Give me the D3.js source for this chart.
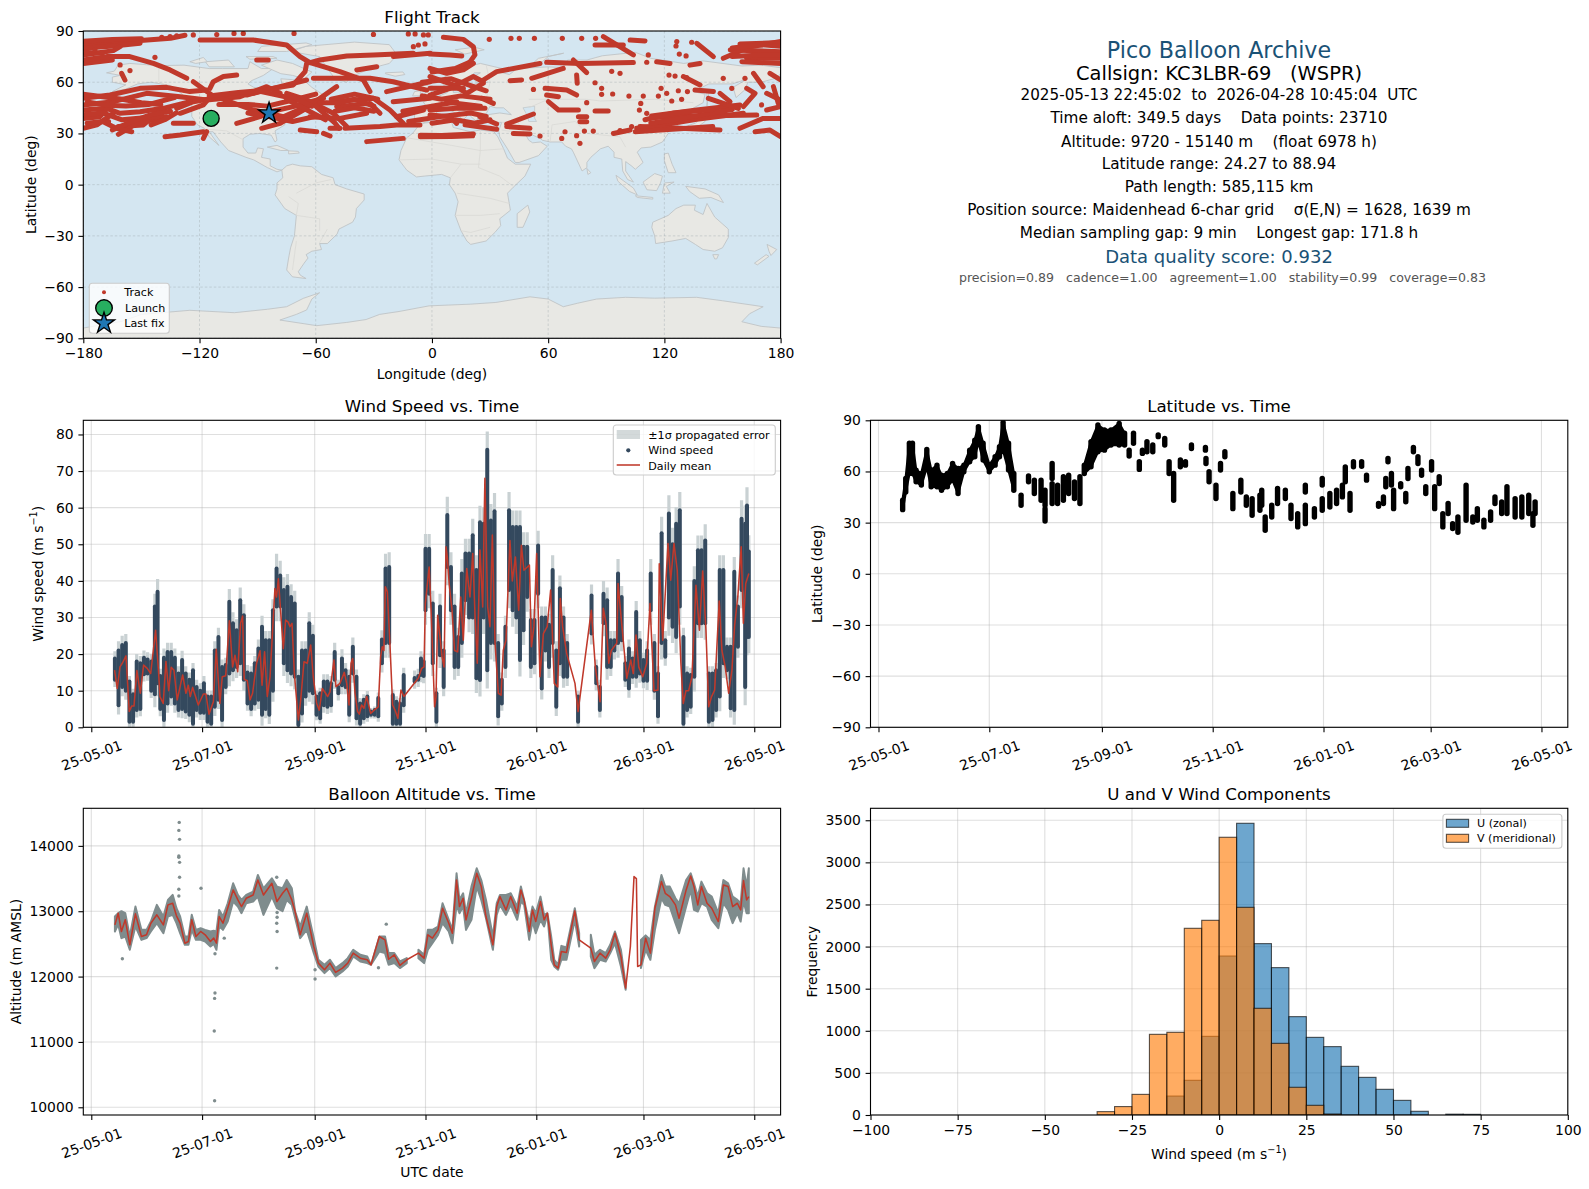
<!DOCTYPE html>
<html><head><meta charset="utf-8">
<script src="https://cdn.jsdelivr.net/npm/d3@7/dist/d3.min.js"></script>
<style>html,body{margin:0;padding:0;background:#fff}svg{display:block}text{font-family:"DejaVu Sans",sans-serif;fill:#000}</style>
</head><body><svg id="c" width="1589" height="1189" viewBox="0 0 1589 1189"></svg>
<script>
// ---------- DATA ----------
const date_ticks=["2025-05-01","2025-07-01","2025-09-01","2025-11-01","2026-01-01","2026-03-01","2026-05-01"];
const lon_ticks=[-180,-120,-60,0,60,120,180];
const lat_ticks=[-90,-60,-30,0,30,60,90];
const wind_ticks=[0,10,20,30,40,50,60,70,80];
const alt_ticks=[10000,11000,12000,13000,14000];
const hist_x_ticks=[-100,-75,-50,-25,0,25,50,75,100];
const hist_y_ticks=[0,500,1000,1500,2000,2500,3000,3500];

// wind: days since 2025-05-01; the spread of the scatter cloud at each of those days
const wind_days=[13,15,17,19,21,23,25,27,29,31,33,35,36.5,38,40,42,44,46,48,50,52,54,56,58,60,62,64,66,68,70,72,74,76,78,80,82,84,86,88,90,92,94,96,98,100,102,104,106,108,110,112,114,116,118,120,122,124,126,128,130,132,134,136,138,140,142,144,146,148,150,152,154,156,158,160,162,164,166,168,170,172,178,180,181.5,183,
184,186,188,190,192,194,196,198,200,202,204,206,208,210,212,214,216,218,220,222,224,226,228,230,232,234,236,238,240,242,244,246,248,250,252,254,256,258,260,262,268,275.4,278,280,282,284,286,288,290,292,294,296,298,300,302,304,306,308,310,312,314,316,318,320,322,324,326,328,330,332,334,336,338,340,342,344,346,348,350,352,354,356,358,360,361,362];
const wind_high=[18.8,21,22.5,23,12.5,9,18,17.5,19,18.5,18,33,37,14,19,20.6,20.6,19,14.7,18.4,14.7,13,15.6,11,10,12,8.4,8.4,21,24.7,16.5,17,34.3,28.4,26.5,34.7,30.6,15,14.7,17.5,21.5,27.5,23.8,23.8,32,43.4,41.5,37.5,38.4,35.6,33.8,13.8,21,21,28.4,25,8.4,9.3,12.5,12.5,12,20.6,11,18.8,15.6,13.8,22,13.8,6.5,7.5,8.4,4.3,4.7,8,24,43.4,43.8,8.8,7,6.5,14.3,13.5,14,18.8,18,
48.8,48.8,33.8,9.3,33,21,58,43.8,33,24.7,42,47.5,47.5,52.5,43,56,55.6,75.8,56.5,59,23,13,27.5,59.3,54.7,54.7,54.7,49.3,49.3,29.3,29.3,49.7,30,30,28,43,21,38,30,23,8.4,36,16.5,11,36.5,34.7,23.8,23.8,42,35.6,17.5,21.5,18.8,31.5,23.8,18.4,21,42,23,14.7,53,23.8,58.4,50,55.6,59.3,24.7,14.7,14.3,40,48.4,48.4,51,14.7,14.7,15.6,43,43,22,22,42.5,33,57,55.6,60.6,48];
const wind_low=[13,6,11,10,1.5,1.5,4.7,5,14.5,14.7,10,9,12,5,2,6.5,8.4,6.5,4.7,5,4.3,3.4,1,4.7,4,4,1.5,1,5.6,7.5,2,11,14.7,15.6,16.5,17.5,13,6.5,5,6.5,7.5,3.4,5,3.4,10,33,33,17.5,15.6,14.7,13.8,0.6,3.8,8.4,10,9.3,3.4,2.5,6,5.6,6,13,9.3,11.5,11,3.4,14.7,2.5,1,2.5,3,3.4,3.4,3,17.5,23,23,1,1,1,6,12.5,13,14.3,14,
32,36.5,17.5,1.5,19.7,11,43.8,32,16.5,16.5,23,34.7,30,30,13.4,12.9,30,15.6,23,23,3,6.5,16.5,37.5,32,30,18.4,26.5,35.6,16.5,17.5,36.5,10.6,21,16.5,23,5.6,17.5,13.8,13.8,1.5,25.6,12,4.7,28.4,16.5,16.5,21,23,23.8,13,10.6,13.8,13.8,14.7,12.7,12.7,32,10,3,23,19.3,30,27.5,24.7,33,1,4.7,5.6,13.8,28.4,28.4,28.4,1.5,2,4.7,8.4,17.5,15.6,5.2,4.7,22,37.5,11,24.7,24.7];
const wind_sigma=[2,2.5,2.5,2.5,1.5,1.5,2,2,2,2,2,3.5,3.5,2,2.5,2.5,2.5,2.5,2,2.5,2,2,2,2,2,2,1.5,1.5,2.5,2.5,2,2,3.5,3,3,3.5,3,2,2,2,2.5,3,2.5,2.5,3,4,4,3.5,3.5,3.5,3.5,2,2.5,2.5,3,3,1.5,1.5,2,2,2,2.5,2,2.5,2,2,2.5,2,1.5,1.5,1.5,1,1,1.5,2.5,4,4,1.5,1.5,1.5,2,2,2,2,2,
4,4,3.5,1.5,3.5,2.5,5,4,3.5,2.5,4,4,4,4.5,4,4.5,4.5,5,4.5,5,2.5,2,3,5,4.5,4.5,4.5,4,4,3,3,4,3,3,3,4,2.5,3.5,3,2.5,1.5,3,2,2,3.5,3.5,2.5,2.5,4,3,2,2.5,2,3,2.5,2,2.5,4,2.5,2,4.5,2.5,5,4.5,4.5,5,2.5,2,2,4,4,4,4.5,2,2,2,4,4,2.5,2.5,4,3,5,5,5,4.5];
const wind_mean_days=[12.8,14.3,15.8,17.3,19.1,20.9,22.2,23.5,25.1,27,28.8,30.8,32.7,35.4,37.1,37.8,39.6,41.1,42.6,44,45.5,47.3,50.3,52.1,53.4,54.5,55.8,58.9,61.7,63.1,64.8,67.2,68.8,70.8,72.1,74,76,77.8,79.1,80.6,82.2,83.3,84.2,85.9,87.4,88.8,91,92.9,94,95.4,96.9,98.4,101.1,102,103,104.2,105.7,107,108.3,109.4,110.5,111.8,114,115.3,117.1,118.9,120.8,122.2,124.1,125.5,127.2,129,130.1,131.4,133.6,134.7,136.9,139.3,140.6,141.9,143,143.9,145.2,146.6,147.6,148.8,150.1,151.6,153.8,156.2,158,159.3,160.2,161.1,161.9,163,164.4,165.9,167.2,168.8,170.5,172.1,180,181.9,183.2,
183.9,186,187,189,189.8,190.7,192,193.1,194.2,195.3,196,197.1,198.6,200,201.7,203.4,204.8,206.7,208.5,210,211.3,212.5,214,215.5,216.7,218.2,219.5,220.8,222.3,224.1,225.6,226.8,228.3,230.5,231.8,233.5,235.3,236.8,238.2,240.1,241.2,242.3,243.7,245.2,247,248.9,251,252.9,254.9,256.8,258.2,259.5,261.7,266.3,268,275.3,277.5,280.1,281.9,283.4,284.9,286.3,289.3,290,292,294.8,297,298.4,299.9,301.4,303.6,305.8,307.6,309.8,312,312.7,314.6,317.5,319,320.8,322.6,324.6,325.9,327.4,328.9,330.7,332.9,334.8,336.6,338.4,339.9,341.5,343.2,345.7,347.2,349,350.9,352.7,354.2,356,357.8,359,360.3,362];
const wind_mean=[15.6,10.6,16.5,17.7,19.5,4.3,5.8,5.8,15.5,9.3,17,16.1,14.7,26.5,14.7,8.4,6.5,18,10,16.4,15.6,7.5,14.3,9.3,11.5,8.4,10.9,6.1,9.1,9.1,3.6,7,21.3,6.5,13.8,14.1,29.1,16.5,19.7,15.2,28.4,30.4,13.1,12.7,7.5,9.3,17.5,20.9,11.5,20.6,8.4,13.8,37.9,35.6,40.6,32,21.5,29.3,28.8,27.5,28.4,14.7,2,7.5,17.9,17.5,22.5,13.8,6.5,4.7,10.6,9.3,8.4,9.7,18.4,11.1,12,15,12,6.1,17.5,18.8,9.3,4.3,3.6,6.1,5.2,8.4,3.8,4.9,5.6,19.3,22,21,38.4,37,23,6.1,4.7,2.5,10.2,8.4,13.4,16.1,16.5,
33.8,43.8,32.9,5.6,8.4,30.6,24.7,19.3,16.5,49.3,46.5,38.8,32,21,20.6,35.6,23.8,43.4,35.6,47.5,30.2,17.5,48.4,32.9,68,33,27.5,52.5,22.9,9.3,8.8,21,23.8,51,40,46.5,32,49.7,42.9,43.8,44.3,22,27.5,47.5,13.8,25.6,27.5,37.5,12,11,35.2,27.5,20.2,12,4.3,32,16.5,7,32.5,28.4,17.5,21,23,39.3,28.4,13.4,18.4,14.7,25.2,16.5,13.8,17.5,33.8,10,10.2,44.7,23.8,50.2,40.2,50.2,42.9,17.5,6.5,10,10,13.8,38.8,26.5,42.7,26.5,5.6,8.4,10.2,34.5,21,16.5,9.3,15.6,27.9,36,49.3,28.4,39.3,42];

// latitude: days since 2025-05-01, upper and lower edge of the point cloud
const lat_days=[13.3,15,17,18.7,20.7,23.6,26.6,29,32.2,34.7,37.9,40.8,43.8,47,50.2,53,55,57.6,61,64.2,66.6,68.6,71.6,74.5,78.5,82.6,85.8,89.5,91.7,91.7,95.6,95.6,98.6,101.8,104.7,107.9,110.9,113.3,117,120.8,124.4,128,132.5,135.5,138,140.4,143.6,145.3,147.8,151,154,157.6,160,162.5,166.2,169,172.3,180,180.3,182,185.8,188.3,190.7,195.1,199.5,202.5,205.7,210,211,212.9,216.5,219.7,224,227.1,230.8,235,235,240,244.3,244.3,248.5,252.2,255.4,257,259.6,261.5,266,268.7,275.3,278,279.3,280.5,283.6,282.4,287.5,290.3,291.5,294.5,297,299,301.3,304.5,306.2,308.7,310.7,313.6,316.1,319,323.5,327.2,329.7,333.3,337,339.4,343.1,346,350.5,354.2,358,360.3,361.5];
const lat_high=[43.1,55.9,76.5,76.5,60.8,58.8,72.9,60.8,63.7,57.8,58.8,64.7,61.8,63.7,72.5,78.4,86.3,76.5,63.7,68.6,74.5,88.9,76.5,58.8,46.1,57.3,54.9,54.9,38.2,49,64.7,52.9,52,56.9,57.8,53.9,56.9,63.7,77.5,87.3,84.3,84.3,88.2,82.4,72.5,82.4,65.7,72.5,77.5,75.5,81.4,79.4,65.7,58.8,66.7,65.7,75.5,74.1,67.6,59.8,52,64.7,71.6,47.1,54.9,45.1,44.1,46.1,49,33.3,40.2,50,49,40.2,35.3,52,40.2,38.2,55.9,44.1,47.1,49,52,62.7,47.1,65.7,65.7,57.8,41.2,45.1,55.9,67.6,49,58.8,52.9,47.1,61.8,74.1,68.6,60.8,51,65.7,51,56.9,35.3,41.2,29.4,33.3,52,33.3,38.2,31.4,36.3,45.1,42.2,51,44.1,45.1,46.1,35.3,42.2];
const lat_low=[37.6,48,58.8,58.8,53.9,52,62.7,51,51,49,51,54.9,47.1,59.8,65.7,68.6,77.5,66.7,59.8,63.7,68.6,72.5,60.8,49,40.2,53.9,47.1,43.1,31,40.2,55.9,41.2,41.2,43.1,47.1,44.1,41.2,58.8,62.7,71.6,72.5,75.5,75.5,75.5,69,76.5,61.2,70.6,71.6,71.6,80.4,75.5,58.8,43.1,62.7,63.7,73.5,72.5,64.7,53.9,44.1,60.8,68.6,38.2,48,40.2,34.3,37.3,40.2,25.5,33.3,41.2,44.1,32.4,27.5,48,29.4,33.3,52,37.3,39.2,41.2,45.1,53.9,37.3,62.7,63,54.9,39.6,41.2,51,65.7,38.2,52,51,42.2,55.9,71.6,64.7,57.8,47.1,60.8,38.2,52.9,27.5,35.3,26.5,24.3,31.4,30.4,31.4,27.5,31.4,41.2,35.3,35.3,33.3,33.3,35.3,28.4,35.3];
// stretches of the flight where fixes run on without a break
const lat_continuous_spans=[[13,75],[113,136]];

// altitude: days since 2025-05-01, daily mean and edges of the point cloud
const alt_days=[13,14.8,16.6,18.7,21.2,24.3,27.6,30.4,32.8,36.1,39.7,42.2,44.8,46.9,48.9,51.5,53.5,55.3,57.6,60.2,62.7,65.6,67.4,68.9,70.4,72.5,75.1,78.1,80.7,82.7,85.3,89.1,91.7,94.8,99.4,102.2,105.3,107.6,110.4,112.2,115,118.6,122.5,125,128.4,131.4,134.5,138.3,141.2,144.2,148.1,151.9,154,158.6,161.7,163.7,166.8,169.9,173.7,180.1,183.2,185.3,187.8,190.9,193.4,196.8,198.8,201.1,202.7,204.7,206.3,209.3,212.2,214.7,217.3,221.1,223.2,225,228.3,230.9,234.5,236.5,238.3,241.1,242.9,244.7,247.3,249.3,251.1,253.2,254.9,257,258.8,261.6,266.2,268.6,275,277,280.1,283.2,285.7,288.3,291.6,294.2,296.8,298.8,300.1,300.8,302.6,305.2,307.8,310.3,313.9,316,318.5,321.6,323.6,327.5,330,331.8,333.9,335.9,339,341.6,345.2,348,350.6,353.1,355.7,357.5,359.1,360.8,362];
const alt_mean=[12791,12970,12690,12870,12486,12960,12613,12639,12817,12945,12791,13097,13122,12930,12817,12511,12537,12870,12613,12690,12639,12537,12588,12511,12919,12817,13046,13326,13173,13071,13198,13249,13478,13249,13428,13148,13275,13351,13173,12995,12639,12970,12460,12206,12104,12206,12064,12130,12206,12359,12282,12257,12180,12613,12562,12265,12333,12170,12257,12359,12282,12639,12588,12715,13046,12817,12664,13478,13071,13198,12868,13198,13580,13377,12919,12486,13071,13224,13020,13224,12970,13326,13173,12690,13020,12842,13148,12868,12970,12486,12180,12130,12384,12370,13005,12562,12435,12231,12359,12282,12410,12664,12308,11824,12460,13530,13500,12155,12180,12587,12359,13046,13453,13275,13224,13097,12893,13326,13540,13377,13097,13377,13122,13046,12842,13402,13377,13071,13122,13020,13468,13173,13224];
const alt_high=[12919,12970,13000,12970,12613,13071,12715,12715,12842,13097,12919,13173,13250,13046,12919,12613,12613,12945,12715,12740,12715,12690,12700,12690,13020,12919,13122,13428,13250,13173,13250,13300,13555,13351,13504,13377,13351,13478,13351,13000,12766,13071,12588,12257,12180,12257,12130,12206,12282,12410,12333,12308,12180,12613,12613,12359,12359,12231,12282,12410,12333,12715,12715,12766,13122,12868,12715,13580,13173,13275,12970,13377,13657,13478,13173,12613,13122,13249,13249,13275,13071,13377,13173,12817,13071,12970,13224,12945,12970,12613,12257,12180,12470,12445,13046,12664,12640,12333,12410,12359,12486,12690,12410,11875,12511,13530,13500,12155,12562,12630,12562,13071,13555,13377,13377,13198,13122,13478,13580,13428,13224,13453,13275,13224,12970,13478,13428,13224,13173,13122,13657,13377,13657];
const alt_low=[12690,12800,12588,12613,12410,12770,12562,12588,12690,12817,12664,12919,12944,12817,12664,12486,12486,12715,12562,12562,12537,12460,12500,12410,12770,12715,12842,13148,13071,12970,13122,13148,13224,12944,13224,13046,13000,13173,13097,12900,12588,12715,12359,12155,12053,12130,12002,12079,12155,12308,12231,12206,12180,12384,12359,12180,12206,12130,12206,12282,12206,12410,12511,12639,12817,12690,12511,13097,12970,13071,12715,12868,13377,13173,12893,12410,12944,13097,12944,13097,12868,13148,13100,12562,12842,12664,12868,12766,12950,12257,12155,12104,12257,12257,12868,12460,12308,12130,12257,12231,12359,12511,12155,11799,12155,13530,13480,12155,12130,12410,12257,12715,13198,13097,13071,12817,12664,13071,13326,13020,12995,13122,13071,12868,12740,13122,13020,12817,12970,12842,13148,12969,12969];
const alt_out_days=[48.4,48.2,48.6,48.2,48.2,48.6,48.6,48.2,48.2,60.4,17.1,68.1,73.2,68.1,67.9,67.7,67.9,102.1,102.3,102.3,102.1,102.3,102.1,123.2,123.2,162.4,158.1];
const alt_out=[14359,14237,14100,13845,13825,13748,13519,13336,13234,13351,12272,12350,12588,11748,11666,11168,10099,13519,12980,12908,12817,12690,12130,12104,11962,12802,12135];

// histogram, 5 m/s bins from -100 to 100
const hist_bin_edges=[-100,-95,-90,-85,-80,-75,-70,-65,-60,-55,-50,-45,-40,-35,-30,-25,-20,-15,-10,-5,0,5,10,15,20,25,30,35,40,45,50,55,60,65,70,75,80,85,90,95,100];
const hist_u=[0,0,0,0,0,0,0,0,0,0,0,0,0,0,0,0,8,225,412,934,1888,3464,2035,1750,1168,922,812,578,447,305,174,44,0,10,8,0,0,0,0,0];
const hist_v=[0,0,0,0,0,0,0,0,0,0,0,0,0,40,100,245,958,982,2217,2312,3298,2466,1267,851,329,115,12,0,0,0,0,0,0,0,0,0,0,0,0,0];

// track: [lon,lat] runs of closely spaced fixes
const track_runs=[
[[-180,82.4],[-161,83.6],[-147,84.7],[-135,85.7],[-127.5,87.5]],
[[-180,84],[-165,85],[-150,85.5]],
[[-180,79.9],[-164.5,81.2],[-150.7,82.8]],
[[-180,76],[-164.5,78.5],[-161,80.8]],
[[-180,77.5],[-170,77]],[[-180,71],[-165,73]],
[[-180,73],[-168,75],[-156,75],[-143.8,71],[-135.2,67.2],[-126.6,62.3]],
[[-119.7,84.7],[-92.2,84.7],[-75,81.8],[-68.1,75],[-62.9,71.5],[-47.5,66.2],[-35.4,61.3],[-32,54.5]],
[[-62.9,71.5],[-57.8,73],[-44,75.4],[-30.2,76],[-9.6,76.9]],
[[-64.7,71],[-65.5,66.2],[-71.6,58.4],[-85.3,55.8],[-95.6,52.5]],
[[-114.6,56.4],[-112.9,60.3],[-107.7,63.3],[-100.8,64.2]],
[[-180,50.6],[-166.2,52.5],[-150.7,56.4],[-137,57],[-125,54.5],[-116.3,55.4]],
[[-180,46.7],[-164.5,48.6],[-147.3,53.5],[-130,51.5],[-116.3,49.6],[-99.1,51.5],[-85.3,57.4],[-78.4,53.5]],
[[-131.8,44.7],[-123.2,48.6],[-112.9,50.6],[-92.2,53.5],[-78.4,57.4],[-64.7,61.3]],
[[-180,43.7],[-168,44.7],[-161,41.8],[-150.7,42.7],[-138.7,44.7],[-124.9,48.6]],
[[-180,38.8],[-171.4,39.8],[-164.5,48.6]],
[[-180,33],[-173,35],[-164.5,41.8]],
[[-161.9,34],[-149,35],[-138.7,44.7]],
[[-161.9,29.5],[-152.4,35.9],[-137,39.8]],
[[-137.8,28.1],[-130,29.1],[-118,31]],
[[-118,27.1],[-116.3,31]],
[[-133.5,35.9],[-123.2,35.9]],
[[-130,41.8],[-118,46.7],[-113.7,52.5],[-123.2,60.3]],
[[-100.8,35.9],[-88.8,39.8],[-83.6,42.7],[-71.6,45.7],[-56,50.6]],
[[-87.9,33],[-78.4,35.9],[-66.4,43.7],[-49.2,57.4]],
[[-109.4,50.6],[-92.2,43.7],[-76.7,39.8],[-63,46.7]],
[[-75,53.5],[-64.7,49.6],[-50.9,41.8],[-44,34]],
[[-68,32],[-59.5,31]],[[-56,30],[-52.6,28.5]],[[-52.6,33],[-47.5,33]],
[[-44.9,33],[-26.8,34],[-18.2,35],[-6.2,35]],
[[-33.7,25.2],[-14.8,27.1]],
[[-6,29],[5,28.8],[21.4,29.7]],[[-6,28],[10,28.2],[21,28.6]],
[[-50.9,48.6],[-30.2,50.6],[-21.7,43.7],[-14.8,35.9]],
[[-49.2,45.7],[-32,47.6],[-26.8,41.8]],
[[-63,39.8],[-47.5,38.8],[-33.7,41.8]],
[[-61.2,62.3],[-45.7,62.3],[-32,62.3],[-20,60.3],[-2.7,55.4]],
[[-38.8,67.2],[-28.5,69.1]],[[-19.9,75],[-0.9,76.9]],[[-23.4,54.5],[-1,60.3]],[[-18.2,39.8],[-4.4,43.7]],[[-20,48.6],[-1,50.6]],
[[-160.2,65.2],[-158.5,61.3]],[[-90.5,73],[-84.5,73]],
[[-180,53],[-170,51.5],[-160,50],[-150,48],[-140,47]],
[[-178,48.5],[-168,46.5],[-158,46],[-146,47],[-133,51]],
[[-180,41],[-170,42],[-160,38],[-150,39],[-140,40]],
[[-178,36],[-170,37],[-163,33],[-155,31]],
[[-165,32],[-155,37],[-145,41],[-135,43]],
[[-145,35],[-138,38],[-132,42]],
[[-110,47],[-95,47],[-85,46],[-70,50],[-60,53]],
[[-115,52],[-100,54],[-90,55],[-78,52],[-70,50],[-62,46]],
[[-95,42],[-85,40],[-72,37],[-60,40]],
[[-58,48],[-48,48],[-40,50],[-30,46]],
[[-50,43],[-40,45],[-30,43]],
[[-52,50],[-40,53],[-28,50]],
[[-60,46],[-50,36],[-48,33]],
[[-75,50],[-65,44],[-55,38]],
[[-15,43],[0,46],[10,48],[25,46]],[[-12,37],[5,40],[20,42],[28,40]],[[0,36],[12,38],[22,36],[30,38]],
[[-5,60],[10,62],[20,58],[28,55]],[[-5,52],[5,50],[15,52],[30,50]],[[0,66],[12,68],[20,72]],
[[5.9,86.3],[16.2,85.1],[21.4,80.8],[22.2,76],[17.9,69.1]],
[[-1,76.5],[9.3,76],[15.4,75.4]],
[[-1,68.1],[7.6,65.2],[16.2,67.2],[21.4,71]],
[[-1,63.3],[11,58.4],[18,53.5],[26.5,59.4]],
[[-1,52.5],[9.3,56.4],[21.4,63.3],[26.5,60.3]],
[[-1,56.4],[16.2,56.4]],[[7.6,48.6],[12.8,48.6]],[[25.7,50.6],[31.7,47.6]],
[[-1,43.7],[12.8,44.7],[27.4,44.7]],[[-1,40.8],[9.3,39.8],[12.8,35.9]],
[[24.8,39.8],[33.4,35.5]],[[17.1,35],[33.4,32.4]],
[[38.6,35.5],[52.4,41.4]],[[38.6,34],[50.6,33]],[[42,30],[50.6,29.7]],
[[26.5,61.3],[33.4,66.2],[55.8,71]],[[40.3,60.9],[46.3,61.3]],[[51.5,62.3],[67.8,68.1]],
[[59.2,71.7],[76.4,71],[104,71.5]],[[73,73],[79.9,65.6]],[[74.7,64.2],[75,59.4]],
[[58.4,56.4],[69.6,55.4],[74.7,52.5]],[[59.2,52.5],[65.3,51.5]],[[60.1,48.6],[65.3,43.7],[75.6,43.7]],
[[84.2,43.1],[91,43.1]],[[75.6,39.8],[79.9,39.8]],[[76.4,36.9],[79.9,36.9]],
[[88.5,86.7],[104,76]],[[84.2,81.8],[98.8,81.8]],[[102.3,84.7],[110,84.2]],
[[113.4,40.2],[136.7,43.7],[159,46.7]],[[114.3,39.4],[136.7,40.2],[167.7,40.8]],
[[105.7,33],[119.5,35],[136.7,38.3],[160.8,41.8]],[[107.4,34],[128,33],[148.7,32]],
[[113,36],[125,38],[140,41],[155,44]],[[105,31],[118,32],[132,33],[145,34]],[[110,38],[125,42],[145,44]],
[[93.7,30],[102.3,32]],[[159,33],[171,38.8],[180,38.8]],[[166.8,31],[174.5,32],[180,28.1]],
[[150.4,74],[164.2,80.8],[180,83.8]],[[159,82.4],[180,83.2]],[[154,78.9],[180,77.9]],[[162.5,74],[180,74]],
[[155,80],[170,82],[180,81]],[[155,75],[170,76],[180,76]],[[160,72],[180,71]],
[[166,65.2],[171,57.4]],[[174.5,65.2],[180,61.3]],[[172.8,53.5],[180,49.6]],[[176.3,57.4],[178.8,47.6]],
[[162.5,56.4],[166.8,53.5],[160.8,45.7]],[[142.7,50.6],[158.2,44.7]],[[148.7,53.5],[153.9,48.6]],
[[135.8,55.4],[145.3,54.5]],[[129.8,63.3],[138.4,58.4]],[[172.8,43.7],[180,45.7]],[[136.7,82.8],[145.3,75]],
[[116,72],[122.9,71]],[[133.2,70],[138.4,71]]];
const track_dot_lon=[29.6,40.8,45.1,52.9,67.3,77.3,84.5,126.4,126,134.1,127.7,131.2,111.7,110.9,92.8,97.1,122.4,125.5,131.5,150.4,161.6,52.4,87.6,84.2,87.6,93.3,101.7,109.1,118.3,121.2,127.2,131.9,116.9,123.8,128.9,107.8,107.1,110.9,79.9,68.7,78.7,83.3,74.7,55.8,76.4,67,103.1,97.1,154.8,170.2,-139.5,-135.2,-131.8,-123.2,-111.1,-102.2,-97.4,-71.2,-30.2,-12.2,-8.7,-4.4,-1.9,-9.6,-7,-3.6,-143,-155.9,-167,-161,-174];
const track_dot_lat=[85.1,85.7,85.7,85.7,85.7,85.7,85.7,83.8,81.2,83.4,76.5,75.4,76,71.7,66.4,65.2,64.2,63.6,62.7,62.3,62.3,55.8,56.4,59.7,52.9,53.1,51.9,51.9,56.4,53.5,55,54.5,51.9,49,50,47.6,43.7,41.8,48,31,31.4,31.4,28.7,28.5,24.2,27.1,34,31.6,56.4,46.7,86.3,86.7,87.1,87.7,87.9,88.6,88.6,88.6,88,88.3,88.3,87.7,87.7,80.8,81.8,82.4,74.6,66.8,36.9,70.1,78.9];
const launch=[-114,38.8], last_fix=[-84.1,41.8];

// coarse land outlines [lon,lat]
const land_polys=[
[[-168,65.5],[-164,66.5],[-162,70],[-156,71],[-141,69.7],[-128,70],[-115,68],[-108,68],[-95,68],[-94,72],[-88,68],[-82,68],[-87,64],[-93,61],[-95,59],[-92,57],[-85,55.5],[-82,53],[-80,51.5],[-79,54.5],[-77,57],[-78,62],[-72,61.5],[-65,60],[-62,57],[-56,52.5],[-60,50],[-66,50],[-70,47],[-65,48.5],[-65,45],[-61,46],[-66,44],[-70,43.5],[-74,40.5],[-76,37],[-76,35],[-81,31.5],[-80,26],[-81,25],[-83,29],[-89,30],[-94,29.5],[-97.5,27],[-97.5,22],[-95,18.5],[-91,18.5],[-90,21.5],[-87,21],[-88,16],[-83.5,15],[-83.5,11],[-80,9],[-77.5,8.5],[-80,7.5],[-85,10],[-92,14.5],[-96,16],[-105,20],[-109,25],[-113,31],[-115,31],[-110,23],[-115,28],[-117.5,33],[-121,35],[-124,40],[-124,48],[-130,54],[-135,58],[-145,60],[-152,59],[-158,56],[-165,54.5],[-158,58.5],[-165,60],[-165,63],[-161,64]],
[[-73,78],[-65,81],[-40,83.5],[-22,82],[-18,76],[-22,71],[-32,68],[-42,63],[-44,60],[-50,62],[-54,68],[-58,75]],
[[-80,73],[-72,71],[-62,66],[-66,62],[-72,64],[-78,65],[-88,70]],
[[-117,72],[-105,73],[-102,69],[-115,69]],
[[-90,78],[-88,81],[-65,83],[-62,82],[-75,78]],
[[-125,72],[-118,74.5],[-116,72],[-122,71]],
[[-96,75],[-82,75],[-80,74],[-94,73.5]],
[[-59,48],[-56,51.5],[-53,47]],
[[-24,65.5],[-15,66],[-14,64.5],[-19,63.5],[-24,65]],
[[-85,22],[-80,23],[-74,20],[-78,20]],
[[-74,19.8],[-69,19.5],[-68.5,18.5],[-74,18]],
[[-77.5,8.5],[-75,11],[-72,12],[-68,11],[-62,10.5],[-57,6],[-51,4],[-50,0],[-44,-2.5],[-35,-5.5],[-35,-9],[-39,-14],[-39.5,-19],[-41,-22],[-48,-26],[-49,-29],[-54,-34.5],[-58,-34.5],[-57,-38],[-62,-39],[-65,-41],[-64,-43],[-66,-46],[-69,-51],[-68,-53],[-65,-55],[-72,-54],[-75,-50],[-74,-43],[-73,-37],[-71,-30],[-70,-18],[-76,-14],[-81,-6],[-80,-2.5],[-80,1],[-77,4]],
[[-6,35.8],[3,37],[10,37.3],[11,33.5],[20,31],[25,32],[32,31],[34,28],[37,21],[39,15.5],[43,12],[51,12],[48,5],[42,-1.5],[39,-5],[40.5,-15],[35,-20],[35.5,-24],[32.5,-28],[28,-33],[20,-35],[18,-33],[15,-27],[12,-18],[13.5,-10],[12,-5],[9,0],[9.5,4],[5,6],[-4,5],[-8,4.5],[-13,8.5],[-17,14.5],[-16,20],[-13,27.5],[-10,30]],
[[49.5,-12],[50.5,-16],[47,-25],[44,-25],[44,-17]],
[[-9,37],[-9,43.5],[-1.5,43.5],[-4.5,48.5],[1,50.5],[4,52],[8,54],[8,57],[11,56],[11,54],[20,54.5],[22,59],[29,60],[23,60],[21,63],[25,65.5],[22,65.5],[17,61],[18,59.5],[15,56],[13,55.5],[11,59],[6,58],[5,62],[14,68],[25,71],[40,67],[33,66.5],[40,64.5],[44,68],[60,69],[68,68.5],[70,73],[80,73],[88,75.5],[105,77.5],[113,74],[130,71],[140,72.5],[160,69.5],[170,70],[180,68.5],[180,65],[178,62.5],[170,60],[163,60],[162,56],[157,51],[155.5,57],[163,62],[155,59],[143,59],[135,54.5],[141,53],[140,48],[132,43],[128,40],[129,36],[126.5,34.5],[126,38],[121,40],[118,38],[122,37],[120,34],[122,30],[119,25],[113,22],[108,21.5],[106,19],[109,13],[105,9],[103,11],[100,13.5],[100,8],[104,1.5],[101,3],[98.5,8],[98,15],[94,16],[94,19],[91,22.5],[87,21],[82,16],[80,13],[80,10],[77.5,8],[73,19],[72,21],[69,22.5],[67,25],[61,25],[57,26],[56,27],[50,30],[48,30],[50,26],[52,24.5],[56,25],[59.5,22.5],[55,17],[45,13],[43,13],[39,21],[35,28],[34.5,31.5],[36,36.5],[30,36.5],[27,37],[26,40],[29,41],[35,42],[41,41],[37,45],[33,45],[30,46],[28,41.5],[24,40.5],[23,37],[20,40],[19,42],[14,45],[12.5,44],[18,40],[16,38],[12,42],[9,44],[3,43],[0,39],[-2,37],[-5,36]],
[[-5,50],[1,51],[1.5,53],[-2,56],[-2,58],[-5,58.5],[-6,56],[-3,54],[-5,52]],
[[-10,52],[-6,52],[-6,55],[-9,54.5]],
[[130,32],[132,34.5],[136,36],[140,40],[141.5,41],[141,37],[138,34.5],[133,33]],
[[140,42],[142,45.5],[145,43.5],[142,42]],
[[142,46],[143,54],[142,54],[142,48]],
[[12,79],[22,80.5],[27,79],[17,76.5]],
[[52,71],[55,74],[68,77],[60,75],[56,71]],
[[80,9.5],[82,7],[80.5,6]],
[[95,5.5],[104,-2],[106,-6],[102,-4],[96,2]],
[[105,-6.5],[114,-7.5],[114,-8.5],[106,-7.5]],
[[109,1.5],[115,6.5],[119,5],[118,1],[116,-3.5],[111,-3]],
[[119,-5],[120,1],[125,1.5],[121,-1],[123,-5]],
[[131,-1],[141,-2.5],[148,-6],[150.5,-10.5],[144,-7.5],[138,-8],[133,-4]],
[[120,18],[122,18.5],[124,12],[126,7],[122,7],[120,14]],
[[114,-22],[122,-18],[126,-14],[130,-12],[136,-12],[135.5,-15],[140,-17.5],[142,-11],[146,-19],[153,-26],[153,-31],[150,-37],[146,-39],[140,-38],[136,-35],[131,-31.5],[124,-33],[115.5,-34.5],[115,-30],[113.5,-25]],
[[145,-41],[148,-41],[147,-43.5],[146,-43.5]],
[[173,-35],[178,-38],[175,-41.5],[174,-39]],
[[172.5,-41],[174,-42],[168,-47],[166.5,-46]],
[[-180,-90],[-180,-84],[-160,-80],[-150,-76],[-125,-73.6],[-102,-75],[-85,-73],[-75,-71.5],[-66.4,-66.6],[-58,-63.3],[-62,-67],[-64.7,-73.4],[-70,-76],[-78.5,-79.3],[-59.5,-82.6],[-44,-80.7],[-34,-79],[-27,-76],[-17,-74.3],[-1.5,-71],[20,-70],[33,-69],[50.6,-65.7],[60,-67],[67.8,-71.5],[75,-69.5],[85,-67],[100,-66],[115,-66.5],[136.7,-66],[150,-68],[171,-71.5],[164,-75.6],[160,-80.3],[170,-83],[180,-84],[180,-90]]];
const lake_polys=[[[47,45],[53,46],[53,39],[54,37],[50,37],[49,41]]];
const border_lines=[
[[-141,69.7],[-141,60],[-130,55]],[[-123,49],[-95,49],[-83,45],[-75,45],[-67,47]],[[-117,32.5],[-106,31.5],[-97,26]],
[[-70,-18],[-58,-20],[-58,-27]],[[-70,-5],[-60,1],[-52,3]],[[-70,-18],[-69,-11],[-74,-7]],[[-70,-33],[-72,-50]],[[-58,-34],[-54,-26]],
[[-13,27.5],[10,23],[25,20],[37,21]],[[25,32],[25,20],[24,10],[35,5],[42,-1]],[[9.5,4],[15,12],[25,12]],[[13,-5],[30,-8],[40,-11]],[[12,-18],[25,-18],[35,-17]],[[15,-27],[20,-28],[30,-25]],[[-17,14.5],[0,15],[15,12]],
[[60,69],[60,50],[50,45]],[[50,50],[80,50],[87,49],[115,50],[135,48]],[[74,37],[80,30],[97,28],[100,22]],[[61,25],[62,35],[74,37]],[[28,70],[30,60],[28,50],[22,48]],[[48,30],[44,37],[36,36.5]],[[48,30],[36,32]]];

const info_lines=[
["Pico Balloon Archive",57.7,22.2,"#1a5276"],
["Callsign: KC3LBR-69   (WSPR)",80,19.45,"#000"],
["2025-05-13 22:45:02  to  2026-04-28 10:45:04  UTC",100,15.2,"#000"],
["Time aloft: 349.5 days    Data points: 23710",123.3,15.28,"#000"],
["Altitude: 9720 - 15140 m    (float 6978 h)",146.7,15.28,"#000"],
["Latitude range: 24.27 to 88.94",169.3,15.28,"#000"],
["Path length: 585,115 km",192.3,15.28,"#000"],
["Position source: Maidenhead 6-char grid    σ(E,N) = 1628, 1639 m",215.3,15.28,"#000"],
["Median sampling gap: 9 min    Longest gap: 171.8 h",238.3,15.28,"#000"],
["Data quality score: 0.932",263.3,18,"#1a5276"],
["precision=0.89   cadence=1.00   agreement=1.00   stability=0.99   coverage=0.83",282.3,12.57,"#555"]];

// ---------- LAYOUT ----------
const svg=d3.select("#c");
const COL={x1:83.3,x2:870.5,w:697.3}, ROW={r1:[31,338.3],r2:[420.3,727.3],r3:[808.3,1115]};
const RED="#c0392b", NAVY="#34495e", GREY="#7f8c8d", GRIDC="#b0b0b0";
const t0=Date.UTC(2025,4,1), day2date=d=>new Date(t0+d*864e5);
const tickDates=date_ticks.map(s=>new Date(s+"T00:00:00Z"));
const minus=d=>String(d).replace("-","\u2212");
const plain=d3.format("d");
let clipN=0;
function panel(x,[top,bottom],xs,ys,xt,yt,xf,yf,opts={}){
  const w=COL.w,h=bottom-top;
  xs.range([0,w]);ys.range([h,0]);
  const g=svg.append("g").attr("transform",`translate(${x},${top})`);
  const id="clip"+(clipN++);
  g.append("clipPath").attr("id",id).append("rect").attr("width",w).attr("height",h);
  const gr=g.append("g");
  if(!opts.noGrid){
    gr.selectAll(".v").data(xt).join("line").attr("x1",d=>xs(d)).attr("x2",d=>xs(d)).attr("y2",h).attr("stroke",GRIDC).attr("stroke-opacity",.4).attr("stroke-width",1.1);
    gr.selectAll(".h").data(yt).join("line").attr("x2",w).attr("y1",d=>ys(d)).attr("y2",d=>ys(d)).attr("stroke",GRIDC).attr("stroke-opacity",.4).attr("stroke-width",1.1);
  }
  const marks=g.append("g").attr("clip-path",`url(#${id})`);
  const top_=g.append("g");
  const ax=g.append("g").attr("transform",`translate(0,${h})`).call(d3.axisBottom(xs).tickValues(xt).tickFormat(xf).tickSize(4.9).tickPadding(4.8));
  const ay=g.append("g").call(d3.axisLeft(ys).tickValues(yt).tickFormat(yf).tickSize(4.9).tickPadding(4.8));
  [ax,ay].forEach(a=>{a.select(".domain").remove();a.selectAll("line").attr("stroke","#000").attr("stroke-width",1.1);a.selectAll("text").attr("font-size",13.9).attr("font-family",'"DejaVu Sans"').attr("fill","#000");});
  if(opts.rot){ax.selectAll("text").attr("text-anchor","middle").attr("dy",null).attr("y",null).attr("dominant-baseline","central").attr("transform","translate(0,28) rotate(-20)");}
  g.append("rect").attr("width",w).attr("height",h).attr("fill","none").attr("stroke","#000").attr("stroke-width",1.1);
  return {g,marks,top:top_,w,h};
}
function title(s,x,y){svg.append("text").attr("x",x).attr("y",y).attr("text-anchor","middle").attr("font-size",16.67).text(s);}
function xlabel(s,x,y){svg.append("text").attr("x",x).attr("y",y).attr("text-anchor","middle").attr("font-size",13.9).attr("dominant-baseline","central").html(s);}
function ylabel(s,x,y){svg.append("text").attr("transform",`translate(${x},${y}) rotate(-90)`).attr("text-anchor","middle").attr("font-size",13.9).attr("dominant-baseline","central").html(s);}
const dateFmt=d3.utcFormat("%y-%m-%d");
const dateScale=()=>d3.scaleUtc().domain([day2date(-4.40),day2date(379.5)]);
const speedLabel='Wind speed (m s<tspan dy="-5" font-size="9.7">\u22121</tspan><tspan dy="5">)</tspan>';

function legendBox(g,x,y,w,h){g.append("rect").attr("x",x).attr("y",y).attr("width",w).attr("height",h).attr("rx",3).attr("fill","#fff").attr("fill-opacity",.8).attr("stroke","#ccc").attr("stroke-width",1.1);}
function legendText(g,s,x,y,fs){g.append("text").attr("x",x).attr("y",y).attr("font-size",fs).attr("dominant-baseline","central").attr("fill","#222").text(s);}
function groupsByGap(days,idx,maxGap){
  const out=[];let cur=[];
  idx.forEach(i=>{ if(cur.length&&days[i]-days[cur[cur.length-1]]>maxGap){out.push(cur);cur=[];} cur.push(i); });
  if(cur.length)out.push(cur);
  return out;
}

// ---------- MAP ----------
{
 const xs=d3.scaleLinear().domain([-180,180]), ys=d3.scaleLinear().domain([-90,90]);
 const p=panel(COL.x1,ROW.r1,xs,ys,lon_ticks,lat_ticks,minus,minus,{noGrid:true});
 const m=p.marks, ln=d3.line().x(d=>xs(d[0])).y(d=>ys(d[1]));
 m.append("rect").attr("width",p.w).attr("height",p.h).attr("fill","#d4e6f1");
 m.selectAll(".land").data(land_polys).join("path").attr("d",d=>ln(d)+"Z").attr("fill","#e8e8e4").attr("stroke","#bfc4c6").attr("stroke-width",.9).attr("stroke-linejoin","round");
 m.selectAll(".lake").data(lake_polys).join("path").attr("d",d=>ln(d)+"Z").attr("fill","#d4e6f1").attr("stroke","#bfc4c6").attr("stroke-width",.7);
 m.selectAll(".bd").data(border_lines).join("path").attr("d",ln).attr("fill","none").attr("stroke","#d9d9d5").attr("stroke-width",.8);
 lon_ticks.forEach(t=>m.append("line").attr("x1",xs(t)).attr("x2",xs(t)).attr("y2",p.h).attr("stroke","#9aa5ab").attr("stroke-opacity",.55).attr("stroke-width",.7).attr("stroke-dasharray","2.5 2"));
 lat_ticks.forEach(t=>m.append("line").attr("y1",ys(t)).attr("y2",ys(t)).attr("x2",p.w).attr("stroke","#9aa5ab").attr("stroke-opacity",.55).attr("stroke-width",.7).attr("stroke-dasharray","2.5 2"));
 m.selectAll(".run").data(track_runs).join("path").attr("d",ln).attr("fill","none").attr("stroke",RED).attr("stroke-width",5).attr("stroke-linecap","round").attr("stroke-linejoin","round");
 m.selectAll(".dot").data(track_dot_lon).join("circle").attr("cx",d=>xs(d)).attr("cy",(d,i)=>ys(track_dot_lat[i])).attr("r",2.6).attr("fill",RED);
 p.top.append("circle").attr("cx",xs(launch[0])).attr("cy",ys(launch[1])).attr("r",8).attr("fill","#27ae60").attr("stroke","#000").attr("stroke-width",1.4);
 const star=d3.symbol().type(d3.symbolStar).size(136)();
 p.top.append("path").attr("d",star).attr("transform",`translate(${xs(last_fix[0])},${ys(last_fix[1])})`).attr("fill","#1f77b4").attr("stroke","#000").attr("stroke-width",1.4);
 const lg=p.top, ox=-COL.x1, oy=-ROW.r1[0];
 legendBox(lg,89.3+ox,283.3+oy,80,50);
 lg.append("circle").attr("cx",104+ox).attr("cy",292.3+oy).attr("r",2).attr("fill",RED);
 lg.append("circle").attr("cx",104+ox).attr("cy",308+oy).attr("r",8.3).attr("fill","#27ae60").attr("stroke","#000").attr("stroke-width",1.4);
 lg.append("path").attr("d",star).attr("transform",`translate(${104+ox},${323.3+oy})`).attr("fill","#1f77b4").attr("stroke","#000").attr("stroke-width",1.4);
 legendText(lg,"Track",124.3+ox,292.3+oy,11.1);legendText(lg,"Launch",125+ox,308+oy,11.1);legendText(lg,"Last fix",124.3+ox,323+oy,11.1);
}
title("Flight Track",432,22.7);
xlabel("Longitude (deg)",432,374);
ylabel("Latitude (deg)",30.7,184.6);

// ---------- WIND ----------
{
 const xs=dateScale(), ys=d3.scaleLinear().domain([0,83.87]);
 const p=panel(COL.x1,ROW.r2,xs,ys,tickDates,wind_ticks,dateFmt,plain,{rot:true});
 const m=p.marks;
 m.selectAll(".e").data(wind_days).join("line").attr("x1",d=>xs(day2date(d))).attr("x2",d=>xs(day2date(d)))
  .attr("y1",(d,i)=>ys(Math.max(0,wind_low[i]-wind_sigma[i]))).attr("y2",(d,i)=>ys(wind_high[i]+wind_sigma[i]))
  .attr("stroke","#c9d1d3").attr("stroke-width",3.2);
 m.selectAll(".p").data(wind_days).join("line").attr("x1",d=>xs(day2date(d))).attr("x2",d=>xs(day2date(d)))
  .attr("y1",(d,i)=>ys(wind_low[i])).attr("y2",(d,i)=>ys(wind_high[i]))
  .attr("stroke",NAVY).attr("stroke-width",4).attr("stroke-linecap","round");
 m.append("path").datum(wind_mean).attr("fill","none").attr("stroke",RED).attr("stroke-width",1.55).attr("stroke-linejoin","round")
  .attr("d",d3.line().x((d,i)=>xs(day2date(wind_mean_days[i]))).y(d=>ys(d)));
 const ox=-COL.x1, oy=-ROW.r2[0], lg=p.top;
 legendBox(lg,613.3+ox,425+oy,162,50);
 lg.append("rect").attr("x",616.7+ox).attr("y",430+oy).attr("width",23.3).attr("height",9).attr("fill","#95a5a6").attr("fill-opacity",.42);
 lg.append("circle").attr("cx",628.3+ox).attr("cy",450.3+oy).attr("r",2.1).attr("fill",NAVY);
 lg.append("line").attr("x1",616.7+ox).attr("x2",640+ox).attr("y1",465+oy).attr("y2",465+oy).attr("stroke",RED).attr("stroke-width",1.55);
 legendText(lg,"\u00b11\u03c3 propagated error",648.3+ox,435.3+oy,11.1);
 legendText(lg,"Wind speed",648.3+ox,450.3+oy,11.1);
 legendText(lg,"Daily mean",648.3+ox,466.5+oy,11.1);
}
title("Wind Speed vs. Time",432,412);
ylabel(speedLabel,37.5,573.8);

// ---------- LATITUDE ----------
{
 const xs=dateScale(), ys=d3.scaleLinear().domain([-90,90]);
 const p=panel(COL.x2,ROW.r2,xs,ys,tickDates,lat_ticks,dateFmt,minus,{rot:true});
 const X=i=>xs(day2date(lat_days[i]));
 const spans=lat_continuous_spans.map(([a,b])=>lat_days.map((d,i)=>i).filter(i=>lat_days[i]>=a&&lat_days[i]<=b&&lat_days[i+1]!==lat_days[i]));
 const ar=d3.area().x(X).y0(i=>ys(lat_low[i])).y1(i=>ys(lat_high[i]));
 p.marks.selectAll(".a").data(spans).join("path").attr("d",ar).attr("fill","#000").attr("stroke","#000").attr("stroke-width",2.5).attr("stroke-linejoin","round");
 p.marks.selectAll(".p").data(lat_days).join("line").attr("x1",d=>xs(day2date(d))).attr("x2",d=>xs(day2date(d)))
  .attr("y1",(d,i)=>ys(lat_low[i])).attr("y2",(d,i)=>ys(lat_high[i]))
  .attr("stroke","#000").attr("stroke-width",5.4).attr("stroke-linecap","round");
}
title("Latitude vs. Time",1219,412);
ylabel("Latitude (deg)",817,573.8);

// ---------- ALTITUDE ----------
{
 const xs=dateScale(), ys=d3.scaleLinear().domain([9882,14575]);
 const p=panel(COL.x1,ROW.r3,xs,ys,tickDates,alt_ticks,dateFmt,plain,{rot:true});
 const m=p.marks, X=i=>xs(day2date(alt_days[i]));
 const idx=alt_days.map((d,i)=>i).filter(i=>alt_days[i]<295||alt_days[i]>302);
 const ar=d3.area().x(X).y0(i=>ys(alt_low[i])).y1(i=>ys(alt_high[i]));
 m.selectAll(".a").data(groupsByGap(alt_days,idx,5)).join("path").attr("d",ar).attr("fill",GREY).attr("stroke",GREY).attr("stroke-width",2).attr("stroke-linejoin","round");
 m.selectAll(".o").data(alt_out_days).join("circle").attr("cx",d=>xs(day2date(d))).attr("cy",(d,i)=>ys(alt_out[i])).attr("r",1.7).attr("fill",GREY);
 m.append("path").datum(alt_mean).attr("fill","none").attr("stroke",RED).attr("stroke-width",1.55).attr("stroke-linejoin","round")
  .attr("d",d3.line().x((d,i)=>xs(day2date(alt_days[i]))).y(d=>ys(d)));
}
title("Balloon Altitude vs. Time",432,800);
ylabel("Altitude (m AMSL)",15.7,961.6);
xlabel("UTC date",432,1171.5);

// ---------- HISTOGRAM ----------
{
 const xs=d3.scaleLinear().domain([-100,100]), ys=d3.scaleLinear().domain([0,3642]);
 const p=panel(COL.x2,ROW.r3,xs,ys,hist_x_ticks,hist_y_ticks,minus,plain,{});
 const bars=(vals,col)=>p.marks.append("g").selectAll("rect").data(vals).join("rect")
   .attr("x",(d,i)=>xs(hist_bin_edges[i])).attr("width",(d,i)=>xs(hist_bin_edges[i+1])-xs(hist_bin_edges[i]))
   .attr("y",d=>ys(d)).attr("height",d=>ys(0)-ys(d)).attr("fill",col).attr("fill-opacity",.65).attr("stroke","#000").attr("stroke-opacity",.65).attr("stroke-width",1.1);
 bars(hist_u,"#1f77b4");bars(hist_v,"#ff7f0e");
 const ox=-COL.x2, oy=-ROW.r3[0], lg=p.top;
 legendBox(lg,1442.9+ox,814.3+oy,119,34);
 [["U (zonal)","#1f77b4",819.3,824],["V (meridional)","#ff7f0e",834.3,839]].forEach(([s,c,y,ty])=>{
  lg.append("rect").attr("x",1446.4+ox).attr("y",y+oy).attr("width",22.2).attr("height",8).attr("fill",c).attr("fill-opacity",.65).attr("stroke","#000").attr("stroke-opacity",.65).attr("stroke-width",1.1);
  legendText(lg,s,1477+ox,ty+oy,11.1);
 });
}
title("U and V Wind Components",1219,800);
xlabel(speedLabel,1219,1154);
ylabel("Frequency",812,961.6);

// ---------- INFO ----------
info_lines.forEach(([s,y,fs,c],i)=>svg.append("text").attr("x",i===info_lines.length-1?1222.5:1219).attr("y",y).attr("text-anchor","middle").attr("font-size",fs).style("fill",c).style("white-space","pre").text(s));
</script></body></html>
